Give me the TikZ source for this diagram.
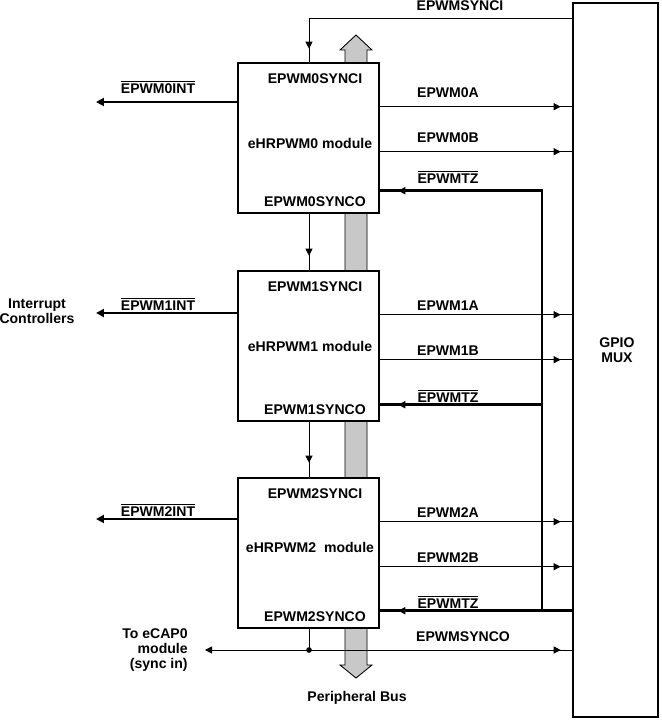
\documentclass[tikz,border=0pt]{standalone}
\usepackage{fontspec}
\setmainfont{Liberation Sans}
\usetikzlibrary{arrows.meta,calc,decorations.markings}
\definecolor{BusGray}{RGB}{200,200,200}
\newcommand{\ovsig}[1]{$\overline{\hbox{#1}}$}
\tikzset{
  ep text/.style={font=\fontsize{8}{8.5}\selectfont\bfseries, inner sep=0pt, align=center},
  ep box/.style={draw, line width=1.5pt, fill=white, inner sep=0pt,
    minimum width=2.82cm, minimum height=3cm},
  ep mux/.style={draw, line width=1.5pt, fill=white, inner sep=0pt,
    minimum width=1.7cm, minimum height=14.28cm},
  ep thin/.style={line width=0.5pt},
  ep thick/.style={line width=1.6pt, line cap=rect},
  ep tip/.style={postaction={decorate}, decoration={markings,
    mark=at position #1 with {\arrow{Triangle[length=4pt,width=4pt]}}}},
  ep head/.style={-{Triangle[length=4.5pt,width=4.5pt]}}
}

\begin{document}
\begin{tikzpicture}[x=0.02cm, y=-0.02cm]
\useasboundingbox (0,0) rectangle (662,720);

% peripheral bus, behind the modules
\draw[ep thin, fill=BusGray] (345,50) -- (340,50) -- (356,35) -- (372,50) -- (367,50)
  -- (367,665) -- (372,665) -- (356,678) -- (340,665) -- (345,665) -- cycle;

\node[ep box] (m0) at (308.5,138) {};
\node[ep box] (m1) at (308.5,346) {};
\node[ep box] (m2) at (308.5,553) {};
\node[ep mux] (mux) at (615.5,360) {};
\node[ep text] (gm) at (617,350) {GPIO\\MUX};

\foreach \i/\mt/\gap in {0/82/{ },1/77/{ },2/71/{\ \ }} {
  \node[ep text] (si\i) at ($(m\i.north)+(6.5,17)$) {EPWM\i SYNCI};
  \node[ep text] (mn\i) at ($(m\i.north)+(1.5,\mt)$) {eHRPWM\i\gap module};
  \node[ep text] (so\i) at ($(m\i.south)+(6.5,-13)$) {EPWM\i SYNCO};
}

% outputs to the mux and trip zone inputs
\coordinate (lx) at (448,0);
\coordinate (tzx) at (542,0);
\foreach \i/\tz/\lo in {0/129/14,1/135/9,2/134/9} {
  \coordinate (oa\i) at ($(m\i.north east)+(0,45)$);
  \coordinate (ob\i) at ($(m\i.north east)+(0,90)$);
  \coordinate (tz\i) at ($(m\i.north east)+(0,\tz)$);
  \draw[ep thin, ep tip=-0.22cm] (oa\i) -- (oa\i -| mux.west);
  \draw[ep thin, ep tip=-0.22cm] (ob\i) -- (ob\i -| mux.west);
  \node[ep text] (la\i) at ($(oa\i -| lx)+(0,-\lo)$) {EPWM\i A};
  \node[ep text] (lb\i) at ($(ob\i -| lx)+(0,-\lo)$) {EPWM\i B};
  \node[ep text] (lt\i) at ($(tz\i -| lx)+(0,-\lo)$) {\ovsig{EPWMTZ}};
}
\draw[ep thick, ep tip=-0.36cm] (tz2 -| mux.west) -- (tz2);
\draw[ep thick] (tz0 -| tzx) -- (tz2 -| tzx);
\draw[ep thick, ep tip=-0.36cm] (tz0 -| tzx) -- (tz0);
\draw[ep thick, ep tip=-0.36cm] (tz1 -| tzx) -- (tz1);

% interrupts
\foreach \i/\y/\lo in {0/102/15,1/313/9,2/519/9} {
  \coordinate (it\i) at (96,\y);
  \draw[ep thick, ep head] (m\i.west |- it\i) -- (it\i);
  \node[ep text] (li\i) at ($(it\i)+(62,-\lo)$) {\ovsig{EPWM\i INT}};
}
\node[ep text] (ic) at (37,311) {Interrupt\\Controllers};

% sync chain
\coordinate (sx) at (309,18);
\draw[ep thin, ep tip=-0.26cm] (sx -| mux.west) -- (sx) -- (sx |- m0.north);
\node[ep text] (lsi) at (460,6) {EPWMSYNCI};
\draw[ep thin, ep tip=-0.28cm] (m0.south -| sx) -- (m1.north -| sx);
\draw[ep thin, ep tip=-0.28cm] (m1.south -| sx) -- (m2.north -| sx);
\coordinate (sy) at (309,650);
\coordinate (ecap) at (205,650);
\draw[ep thin] (m2.south -| sx) -- (sy);
\fill (sy) circle (1.6pt);
\draw[ep thin, {Triangle[length=4pt,width=4pt]}-, ep tip=-0.22cm] (ecap) -- (sy -| mux.west);
\node[ep text] (lso) at (463,637) {EPWMSYNCO};
\node[ep text, align=right, anchor=east] (ec) at (188,650) {To eCAP0\\module\\(sync in)};
\node[ep text] (pb) at (357,698) {Peripheral Bus};
\end{tikzpicture}
\end{document}
